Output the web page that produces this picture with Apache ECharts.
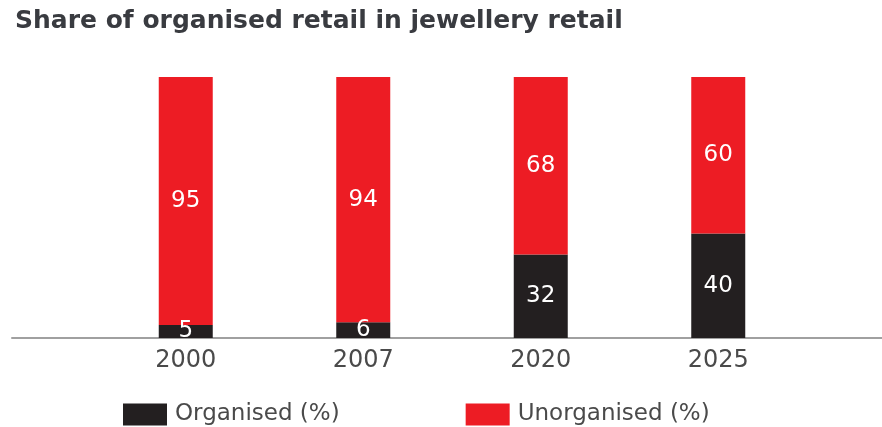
<!DOCTYPE html>
<html>
<head>
<meta charset="utf-8">
<script src="https://cdn.jsdelivr.net/npm/echarts@6/dist/echarts.min.js"></script>
<style>html,body{margin:0;padding:0;background:#fff}#c{width:882px;height:427px}</style>
</head>
<body>
<div id="c"></div>
<script>
const years = ['2000', '2007', '2020', '2025'];
const organised = [5, 6, 32, 40];
const unorganised = [95, 94, 68, 60];

const chart = echarts.init(document.getElementById('c'));
const font = 'DejaVu Sans';
chart.setOption({
  animation: false,
  backgroundColor: '#fff',
  title: {
    text: 'Share of organised retail in jewellery retail',
    left: 10, top: 4,
    textStyle: { fontFamily: font, fontWeight: 'bold', fontSize: 25, color: '#393b40' }
  },
  legend: {
    left: 118, top: 398,
    icon: 'rect', itemWidth: 44, itemHeight: 22, itemGap: 126,
    textStyle: { fontFamily: font, fontSize: 23, color: '#4a4a4a', padding: [0, 0, 0, 3] },
    data: ['Organised (%)', 'Unorganised (%)']
  },
  grid: [
    { left: 97, right: 75, top: 77, bottom: 89 },
    { left: 12, right: 0, top: 77, bottom: 89 }
  ],
  xAxis: [
    {
      type: 'category', data: years, gridIndex: 0,
      axisLine: { show: false }, axisTick: { show: false },
      axisLabel: { fontFamily: font, fontSize: 24, color: '#4a4a4a', margin: 11 }
    },
    {
      type: 'value', gridIndex: 1, min: 0, max: 1,
      axisLine: { show: true, lineStyle: { color: '#a0a0a0', width: 2 } },
      axisTick: { show: false }, axisLabel: { show: false }, splitLine: { show: false }
    }
  ],
  yAxis: [
    { type: 'value', min: 0, max: 100, show: false, gridIndex: 0 },
    { type: 'value', min: 0, max: 1, show: false, gridIndex: 1 }
  ],
  series: [
    {
      name: 'Organised (%)', type: 'bar', stack: 's', data: organised, barWidth: 54,
      itemStyle: { color: '#231f20' },
      label: { show: true, position: 'inside', fontFamily: font, fontSize: 23, color: '#ffffff' }
    },
    {
      name: 'Unorganised (%)', type: 'bar', stack: 's', data: unorganised, barWidth: 54,
      itemStyle: { color: '#ed1c24' },
      label: { show: true, position: 'inside', fontFamily: font, fontSize: 23, color: '#ffffff' }
    }
  ]
});
</script>
</body>
</html>
